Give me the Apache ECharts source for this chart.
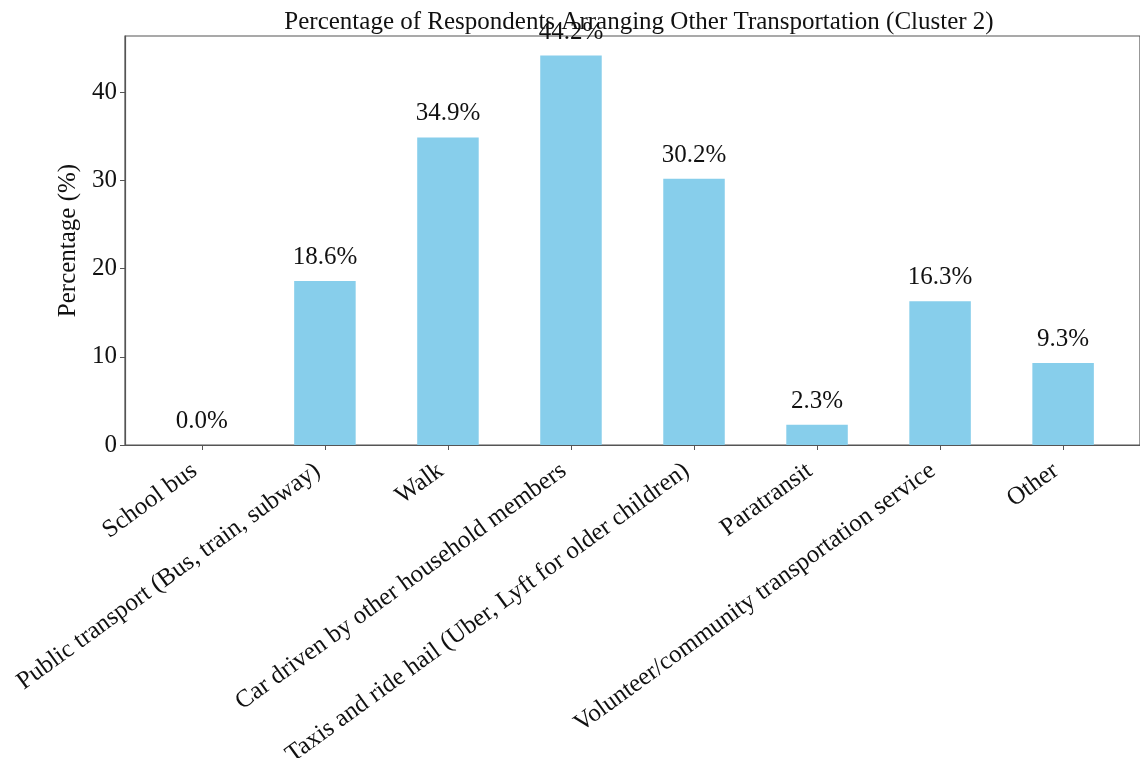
<!DOCTYPE html>
<html>
<head>
<meta charset="utf-8">
<script src="https://cdn.jsdelivr.net/npm/echarts@6/dist/echarts.min.js"></script>
<style>
html,body{margin:0;padding:0;background:#fff;}
#chart{width:1140px;height:758px;}
</style>
</head>
<body>
<div id="chart"></div>
<script>
const categories = [
  "School bus",
  "Public transport (Bus, train, subway)",
  "Walk",
  "Car driven by other household members",
  "Taxis and ride hail (Uber, Lyft for older children)",
  "Paratransit",
  "Volunteer/community transportation service",
  "Other"
];
const values = [0.0, 18.6, 34.9, 44.2, 30.2, 2.3, 16.3, 9.3];
const yTicks = [0, 10, 20, 30, 40];
const titleText = "Percentage of Respondents Arranging Other Transportation (Cluster 2)";
const yAxisTitle = "Percentage (%)";

const FONT = "Liberation Serif";
const FS = 25;
const axisColor = "#555";
const idx = categories.map((c, i) => i);

const chart = echarts.init(document.getElementById('chart'), null, {renderer: 'canvas'});
chart.setOption({
  animation: false,
  backgroundColor: '#fff',
  textStyle: {fontFamily: FONT},
  title: {
    text: titleText,
    left: 634, top: 5, textAlign: 'center',
    textStyle: {fontFamily: FONT, fontSize: FS, fontWeight: 'normal', color: '#111'}
  },
  grid: {
    left: 125, right: 0, top: 36, bottom: 313,
    containLabel: false,
    outerBoundsMode: 'none',
    show: true, borderColor: axisColor, borderWidth: 1.2, backgroundColor: 'transparent'
  },
  xAxis: {
    type: 'value',
    min: -0.625, max: 7.625,
    splitLine: {show: false},
    axisLine: {show: true, onZero: false, lineStyle: {color: axisColor, width: 1.2}},
    axisTick: {show: true, length: 5, inside: false, customValues: idx, lineStyle: {color: axisColor}},
    axisLabel: {
      customValues: idx,
      rotate: 36,
      padding: [0, 9, 0, 0],
      fontFamily: FONT, fontSize: FS, color: '#111', margin: 18,
      formatter: v => categories[Math.round(v)]
    }
  },
  yAxis: {
    type: 'value',
    min: 0, max: 46.41,
    splitLine: {show: false},
    name: yAxisTitle,
    nameLocation: 'middle',
    nameGap: 35,
    nameTextStyle: {fontFamily: FONT, fontSize: FS, color: '#111'},
    axisLine: {show: true, onZero: false, lineStyle: {color: axisColor, width: 1.2}},
    axisTick: {show: true, length: 5, customValues: yTicks, lineStyle: {color: axisColor}},
    axisLabel: {customValues: yTicks, fontFamily: FONT, fontSize: FS, color: '#111', margin: 8}
  },
  series: [{
    type: 'bar',
    data: values.map((v, i) => [i, v]),
    barWidth: 61.5,
    itemStyle: {color: '#87CEEB'},
    label: {
      show: true, position: 'top', distance: 11,
      fontFamily: FONT, fontSize: FS, color: '#111',
      formatter: p => p.value[1].toFixed(1) + '%'
    }
  }]
});
</script>
</body>
</html>
